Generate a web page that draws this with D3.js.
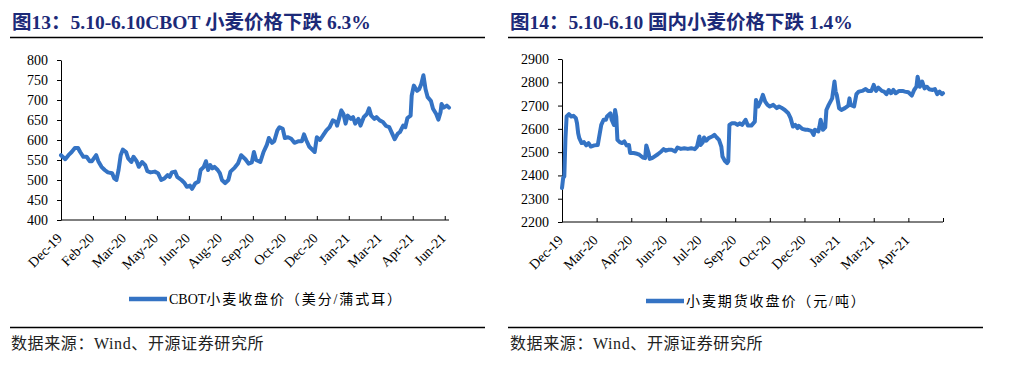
<!DOCTYPE html>
<html><head><meta charset="utf-8">
<script src="https://cdn.jsdelivr.net/npm/d3@7/dist/d3.min.js"></script>
<style>
body{margin:0;background:#fff;}
svg text{font-family:"Liberation Serif","Times New Roman","Noto Sans CJK SC",serif;fill:#000;}
</style></head><body>
<svg id="c" width="1026" height="369"></svg>
<script>
// ---------- data ----------
const leftTitle = "图13：5.10-6.10CBOT 小麦价格下跌 6.3%";
const rightTitle = "图14：5.10-6.10 国内小麦价格下跌 1.4%";
const leftLegend = "CBOT小麦收盘价（美分/蒲式耳）";
const rightLegend = "小麦期货收盘价（元/吨）";
const sourceNote = "数据来源：Wind、开源证券研究所";

const cbotTickLabels = ["Dec-19","Feb-20","Mar-20","May-20","Jun-20","Aug-20","Sep-20","Oct-20","Dec-20","Jan-21","Mar-21","Apr-21","Jun-21"];
const cbotYTicks = [400,450,500,550,600,650,700,750,800];
const cbotDays = [
 0,4,7,10,13,16,18,21,24,27,
 29,33,35,38,41,44,48,50,52,54,
 56,58,61,63,66,68,71,73,76,79,
 81,84,88,91,94,97,100,102,104,107,
 109,113,116,118,121,123,126,129,131,134,
 136,138,140,142,144,147,149,151,154,157,
 159,163,166,169,173,176,179,181,183,187,
 190,193,195,198,200,203,205,208,210,213,
 216,219,223,226,228,230,233,238,240,243,
 246,249,252,255,258,259,263,265,267,269,
 272,274,276,279,281,284,287,289,291,294,
 296,299,302,305,308,311,313,316,318,321,
 323,325,328,329,331,334,336,338,340,342,
 344,347,349,352,354,356,357,359,362,364];
const cbotValues = [
 562,552,562,570,580,580,570,558,558,547,
 547,562,547,533,525,519,517,504,500,525,
 562,576,570,554,545,558,547,533,545,537,
 522,519,521,517,500,504,512,508,519,521,
 508,500,492,483,486,478,492,496,525,533,
 547,525,537,529,533,525,517,500,492,500,
 521,531,541,562,552,541,544,570,550,545,
 570,587,605,593,597,624,632,628,605,607,
 603,593,597,597,614,600,583,570,607,600,
 612,624,632,649,645,636,674,665,641,661,
 653,657,641,653,636,657,665,679,661,653,
 657,649,645,635,632,614,602,616,620,636,
 632,655,661,711,736,723,727,740,762,727,
 707,698,678,665,651,669,690,681,686,681];

const zzTickLabels = ["Dec-19","Mar-20","Apr-20","Jun-20","Jul-20","Sep-20","Oct-20","Dec-20","Jan-21","Mar-21","Apr-21"];
const zzYTicks = [2200,2300,2400,2500,2600,2700,2800,2900];
const zzDays = [
 0,1,2,3,4,6,8,10,12,13,
 14,15,17,19,21,23,25,28,31,32,
 34,36,38,39,42,43,45,46,47,48,
 50,52,54,56,58,59,62,65,67,70,
 72,73,75,76,78,80,83,86,88,90,
 92,95,98,100,103,106,109,112,115,117,
 119,120,122,123,125,127,130,132,134,136,
 138,139,141,143,144,145,147,150,152,154,
 156,159,161,164,167,168,170,172,174,176,
 178,180,183,186,188,190,193,196,198,200,
 202,204,205,208,211,213,216,218,219,222,
 223,224,226,228,229,231,234,236,237,238,
 240,242,245,248,249,250,253,255,257,260,
 263,265,268,270,272,274,277,279,281,283,
 285,287,289,292,295,297,300,303,305,307,
 308,310,312,314,316,318,321,323,325,327,
 329,330];
const zzValues = [
 2346,2389,2396,2560,2653,2663,2653,2656,2646,2624,
 2581,2560,2539,2543,2529,2539,2524,2529,2531,2560,
 2617,2639,2639,2653,2667,2639,2617,2681,2653,2553,
 2543,2539,2546,2529,2531,2496,2496,2493,2489,2477,
 2474,2529,2496,2471,2474,2481,2491,2503,2513,2506,
 2510,2510,2503,2520,2514,2517,2514,2517,2513,2524,
 2567,2531,2543,2563,2549,2560,2567,2574,2563,2553,
 2524,2481,2463,2453,2460,2617,2624,2624,2617,2624,
 2617,2639,2614,2614,2631,2724,2696,2717,2746,2717,
 2703,2696,2703,2689,2696,2691,2681,2667,2646,2610,
 2617,2603,2613,2600,2596,2596,2591,2574,2596,2589,
 2610,2639,2596,2606,2681,2703,2731,2803,2760,2746,
 2689,2681,2689,2700,2731,2703,2696,2749,2760,2763,
 2771,2763,2763,2789,2763,2777,2763,2760,2749,2767,
 2753,2767,2753,2763,2763,2760,2757,2743,2767,2781,
 2824,2781,2803,2774,2781,2770,2767,2771,2749,2760,
 2749,2753];

// ---------- drawing ----------
const svg = d3.select("#c");
const LINE = "#3473c4";
const TITLE = "#1c2a78";

function header(x, lineX1, lineX2, text) {
  svg.append("text").attr("x", x).attr("y", 29)
    .attr("font-size", 19.5).attr("font-weight", "bold")
    .style("fill", TITLE).text(text);
  svg.append("line").attr("x1", lineX1).attr("x2", lineX2)
    .attr("y1", 37.5).attr("y2", 37.5).attr("stroke", "#000").attr("stroke-width", 1.3);
}
function footer(x, lineX1, lineX2) {
  svg.append("line").attr("x1", lineX1).attr("x2", lineX2)
    .attr("y1", 327.5).attr("y2", 327.5).attr("stroke", "#000").attr("stroke-width", 1.3);
  svg.append("text").attr("x", x).attr("y", 349).attr("font-size", 16)
    .attr("letter-spacing", 0.6).style("fill", "#222").text(sourceNote);
}

function panel(o) {
  const x = d3.scaleLinear().domain([0, o.xMax]).range([o.x0, o.x1]);
  const y = d3.scaleLinear().domain([o.yTicks[0], o.yTicks[o.yTicks.length-1]]).range([o.yB, o.yT]);

  const ya = svg.append("g").attr("transform", `translate(${o.x0},0)`)
    .call(d3.axisLeft(y).tickValues(o.yTicks).tickSize(4).tickSizeOuter(0).tickPadding(9).tickFormat(d3.format("d")));
  ya.selectAll("text").attr("font-size", 14).style("fill", "#000");
  ya.selectAll("path,line").attr("stroke", "#000");
  ya.attr("font-family", null);

  const tickDays = d3.range(o.nTicks).map(i => i * 30);
  const xa = svg.append("g").attr("transform", `translate(0,${o.yB})`)
    .call(d3.axisBottom(x).tickValues(tickDays).tickSize(-4).tickSizeOuter(0).tickFormat(""));
  xa.selectAll("path,line").attr("stroke", "#000");
  xa.select(".domain").attr("d", `M${o.x0},0H${o.x1}`);

  svg.append("g").selectAll("text").data(o.labels).join("text")
    .attr("transform", (d, i) => `translate(${x(i*30)+2},${o.yB+19}) rotate(-45)`)
    .attr("text-anchor", "end").attr("font-size", 14).text(d => d);

  const pts = o.days.map((d, i) => [d, o.values[i]]);
  svg.append("path").datum(pts)
    .attr("fill", "none").attr("stroke", LINE).attr("stroke-width", 4)
    .attr("stroke-linejoin", "round").attr("stroke-linecap", "round")
    .attr("d", d3.line().x(d => x(d[0])).y(d => y(d[1])));

  svg.append("line").attr("x1", o.lx).attr("x2", o.lx + 38)
    .attr("y1", o.ly).attr("y2", o.ly).attr("stroke", LINE).attr("stroke-width", 4.5);
  const lt = svg.append("text").attr("x", o.lx + 40).attr("y", o.ly).attr("dy", "0.35em")
    .attr("font-size", 14);
  const runs = o.legend.match(/[A-Za-z]+|[^A-Za-z]+/g);
  runs.forEach(r => {
    lt.append("tspan").attr("letter-spacing", /[A-Za-z]/.test(r) ? 0 : 1.9).text(r);
  });
}

header(12, 10, 485, leftTitle);
header(510, 508, 983, rightTitle);

panel({x0: 61, x1: 449, yB: 220, yT: 60, xMax: 364, nTicks: 13,
  yTicks: cbotYTicks, labels: cbotTickLabels, days: cbotDays, values: cbotValues,
  lx: 129, ly: 299, legend: leftLegend});
panel({x0: 562, x1: 943, yB: 222, yT: 59, xMax: 330, nTicks: 12,
  yTicks: zzYTicks, labels: zzTickLabels, days: zzDays, values: zzValues,
  lx: 646, ly: 301, legend: rightLegend});

footer(11, 10, 485);
footer(510, 508, 983);
</script>
</body></html>
